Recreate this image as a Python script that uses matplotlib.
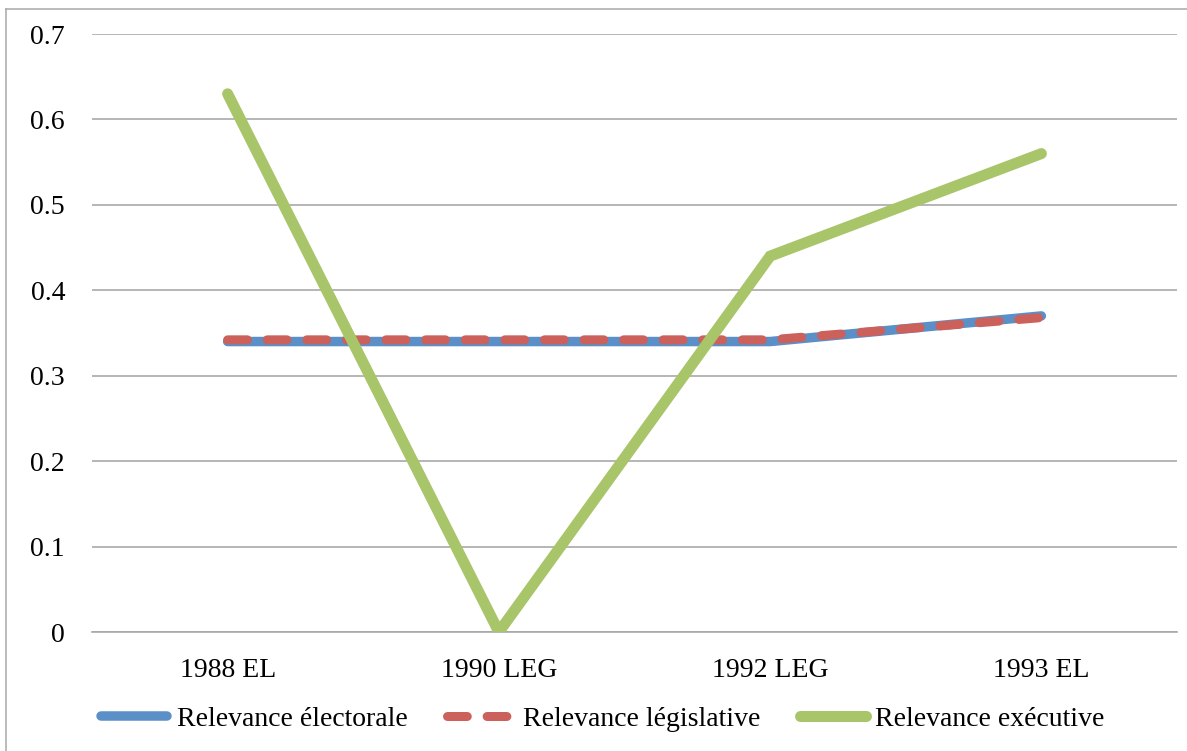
import matplotlib as mpl
import matplotlib.pyplot as plt
from matplotlib.lines import Line2D
import numpy as np

W, H = 1187, 751

categories = ["1988 EL", "1990 LEG", "1992 LEG", "1993 EL"]
electorale = [0.34, 0.34, 0.34, 0.37]
legislative = [0.342, 0.342, 0.342, 0.368]
executive = [0.63, 0.0, 0.44, 0.56]

labels = ["Relevance électorale", "Relevance législative", "Relevance exécutive"]
colors = {
    "blue": "#5b8fc8",
    "red": "#cc605a",
    "green": "#a8c56a",
    "grid": "#a6a6a6",
    "frame": "#a6a6a6",
}

FS = 20

mpl.rcParams.update(
    {
        "font.family": ["Liberation Serif", "DejaVu Serif"],
        "font.size": FS,
    }
)


def px(v: float) -> float:
    # pixel size at dpi 100 -> points
    return v * 0.72


fig = plt.figure(figsize=(W / 100, H / 100), dpi=100)
fig.patch.set_facecolor("white")
ax = fig.add_axes([92 / W, 1 - 632 / H, (1177 - 92) / W, (632 - 34) / H])

x = np.arange(len(categories))
ax.plot(x, electorale, color=colors["blue"], lw=px(9.5), solid_capstyle="round",
        solid_joinstyle="round", label=labels[0], zorder=3)
ax.plot(x, legislative, color=colors["red"], lw=px(9), linestyle=(0, (2.2, 2.2)),
        dash_capstyle="round", label=labels[1], zorder=4)
ax.plot(x, executive, color=colors["green"], lw=px(11), solid_capstyle="round",
        solid_joinstyle="miter", label=labels[2], zorder=5)

ax.set_xlim(-0.5, 3.5)
ax.set_ylim(0, 0.7)
ax.set_yticks(np.arange(0, 0.71, 0.1))
ax.set_yticklabels(["0"] + [f"{v:.1f}" for v in np.arange(0.1, 0.71, 0.1)])
ax.set_xticks(x)
ax.set_xticklabels(categories)
ax.grid(axis="y", color=colors["grid"], linewidth=px(1.6))
ax.set_axisbelow(True)
for side in ["top", "right", "left"]:
    ax.spines[side].set_visible(False)
ax.spines["bottom"].set_color(colors["grid"])
ax.spines["bottom"].set_linewidth(px(1.6))
ax.tick_params(axis="y", length=0, pad=px(27))
ax.tick_params(axis="x", length=0, pad=px(26))

fig.legend(
    loc="center",
    bbox_to_anchor=(603 / W, 1 - 719 / H),
    ncol=3,
    frameon=False,
    handlelength=2.37,
    handletextpad=0.34,
    columnspacing=1.44,
    borderpad=0,
    fontsize=FS,
)

# outer chart frame (left and top edges)
fig.add_artist(Line2D([6 / W, 6 / W], [0, 1 - 9 / H], color=colors["frame"], lw=px(1.5)))
fig.add_artist(Line2D([6 / W, 1], [1 - 9 / H, 1 - 9 / H], color=colors["frame"], lw=px(1.5)))

fig.savefig("out.png", dpi=100)
